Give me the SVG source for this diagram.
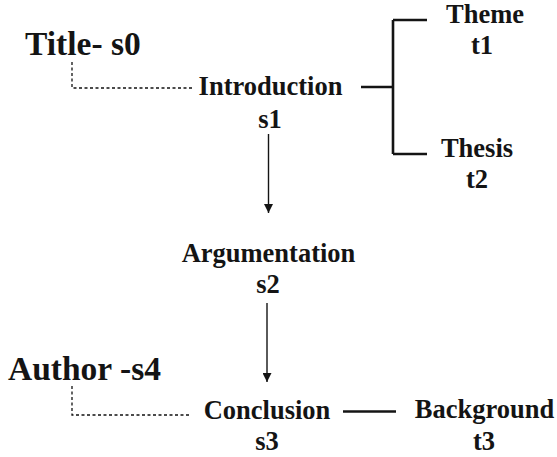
<svg xmlns="http://www.w3.org/2000/svg" width="557" height="457" viewBox="0 0 557 457">
  <defs>
    <style>
      text { font-family: "Liberation Serif", "Times New Roman", serif; font-weight: bold; fill: #141414; }
      .lbl { font-size: 26.5px; text-anchor: middle; }
      .big { font-size: 33.5px; }
      .dash { fill: none; stroke: #111; stroke-width: 1.3; stroke-dasharray: 3 2.5; }
      .solid { fill: none; stroke: #141414; stroke-width: 2.6; }
      .arrow { fill: none; stroke: #141414; stroke-width: 1.4; }
    </style>
    <marker id="head" viewBox="0 0 10 10" refX="10" refY="5" markerWidth="10" markerHeight="9" markerUnits="userSpaceOnUse" orient="auto">
      <path d="M0,0 L10,5 L0,10 Z" fill="#141414"/>
    </marker>
  </defs>
  <rect width="557" height="457" fill="#ffffff"/>

  <!-- links between the sections -->
  <g id="connectors">
    <path class="dash" d="M72,62 V88 H192"/>
    <path class="dash" d="M72,386 V415 H190"/>
    <path class="solid" d="M361,87 H393 M393,20 V154 M393,20 H427 M393,154 H427"/>
    <path class="solid" d="M343,411.5 H396"/>
    <path class="arrow" d="M268.5,134 V213" marker-end="url(#head)"/>
    <path class="arrow" d="M267,303 V382" marker-end="url(#head)"/>
  </g>

  <g id="s0"><text class="big" x="25" y="55">Title- s0</text></g>
  <g id="s4"><text class="big" x="8" y="380">Author -s4</text></g>
  <g id="s1"><text class="lbl" x="270.5" y="95">Introduction</text><text class="lbl" x="270" y="128">s1</text></g>
  <g id="s2"><text class="lbl" x="268.5" y="262">Argumentation</text><text class="lbl" x="268" y="293">s2</text></g>
  <g id="s3"><text class="lbl" x="267" y="419">Conclusion</text><text class="lbl" x="267" y="450">s3</text></g>
  <g id="t1"><text class="lbl" x="485" y="23">Theme</text><text class="lbl" x="482" y="54">t1</text></g>
  <g id="t2"><text class="lbl" x="477" y="157">Thesis</text><text class="lbl" x="477" y="188">t2</text></g>
  <g id="t3"><text class="lbl" x="484.5" y="418">Background</text><text class="lbl" x="484" y="450">t3</text></g>
</svg>
